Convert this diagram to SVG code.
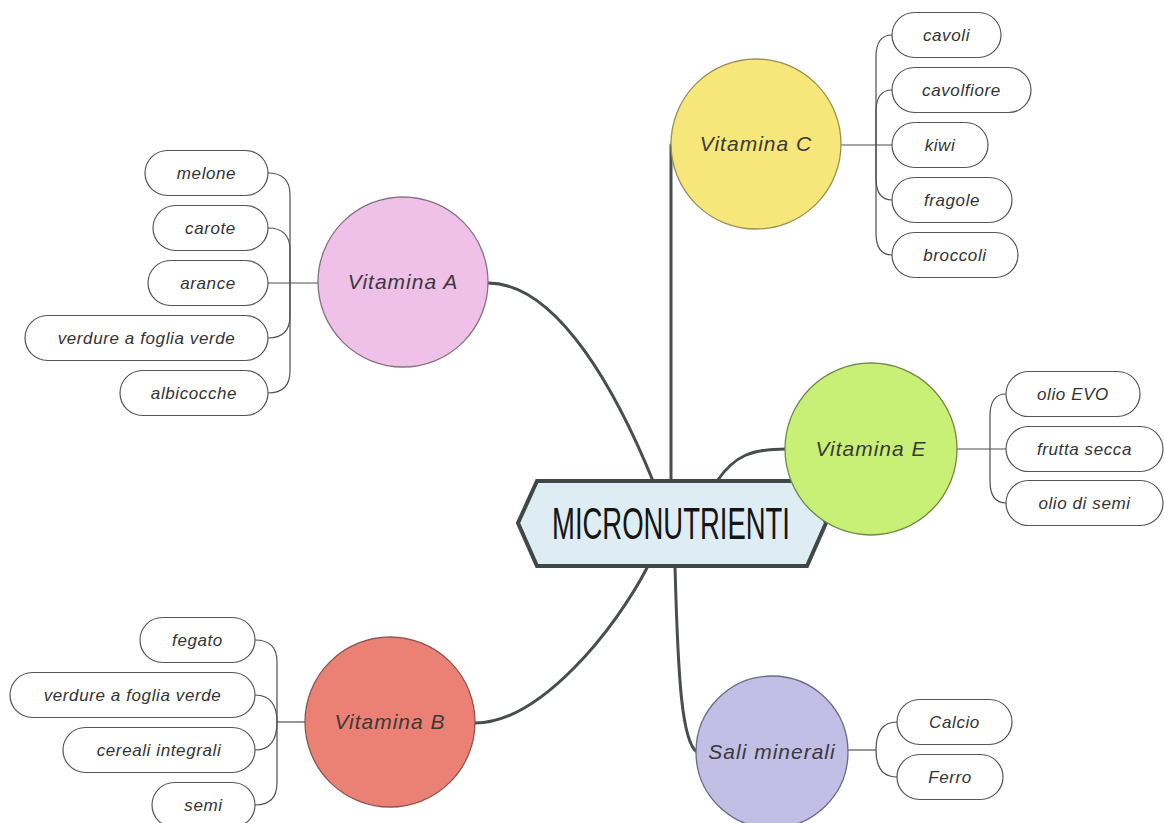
<svg xmlns="http://www.w3.org/2000/svg" width="1164" height="823" viewBox="0 0 1164 823">
  <style>
    .branch { fill: none; stroke: #4a4d4d; stroke-width: 3; stroke-linecap: round; }
    .leafline { fill: none; stroke: #4f4f4f; stroke-width: 1.2; }
    .leaf rect { fill: #ffffff; stroke: #555555; stroke-width: 1.2; }
    .leaf text { font-family: "Liberation Sans", Arial, sans-serif; font-style: italic; font-size: 17px; letter-spacing: 0.6px; fill: #333333; text-anchor: middle; }
    .topic text { font-family: "Liberation Sans", Arial, sans-serif; font-style: italic; font-size: 21px; letter-spacing: 1px; fill: #3a3a3a; text-anchor: middle; }
    .topic circle { stroke-width: 1.3; }
    .central text { font-family: "Liberation Sans", Arial, sans-serif; font-size: 44px; fill: #151515; }
  </style>

  <!-- connectors -->
  <g id="connectors">
    <!-- main branches -->
    <path class="branch" d="M671,481 L671,145"/>
    <path class="branch" d="M488,283 C560,283 620,400 653,481"/>
    <path class="branch" d="M717,481 C735,455 752,449 786,449"/>
    <path class="branch" d="M648,566 C615,630 540,723 475,723"/>
    <path class="branch" d="M675,566 C678,680 682,742 697,752"/>

    <!-- Vitamina C leaves -->
    <path class="leafline" d="M841,145 L892,145"/>
    <path class="leafline" d="M876,145 L876,57 Q876,35 892,35"/>
    <path class="leafline" d="M876,145 L876,112 Q876,90 892,90"/>
    <path class="leafline" d="M876,145 L876,178 Q876,200 892,200"/>
    <path class="leafline" d="M876,145 L876,233 Q876,255 892,255"/>

    <!-- Vitamina A leaves -->
    <path class="leafline" d="M318,283 L268,283"/>
    <path class="leafline" d="M290,283 L290,195 Q290,173 268,173"/>
    <path class="leafline" d="M290,283 L290,250 Q290,228 268,228"/>
    <path class="leafline" d="M290,283 L290,316 Q290,338 268,338"/>
    <path class="leafline" d="M290,283 L290,371 Q290,393 268,393"/>

    <!-- Vitamina E leaves -->
    <path class="leafline" d="M956,449 L1006,449"/>
    <path class="leafline" d="M990,449 L990,416 Q990,394 1006,394"/>
    <path class="leafline" d="M990,449 L990,481 Q990,503 1006,503"/>

    <!-- Vitamina B leaves -->
    <path class="leafline" d="M305,722 L277,722"/>
    <path class="leafline" d="M277,722 L277,662 Q277,640 255,640"/>
    <path class="leafline" d="M277,722 Q277,695 255,695"/>
    <path class="leafline" d="M277,722 Q277,750 255,750"/>
    <path class="leafline" d="M277,722 L277,783 Q277,805 255,805"/>

    <!-- Sali minerali leaves -->
    <path class="leafline" d="M847,750 L876,750"/>
    <path class="leafline" d="M876,750 Q876,722 897,722"/>
    <path class="leafline" d="M876,750 Q876,777 897,777"/>
  </g>

  <!-- central topic -->
  <g id="micronutrienti" class="central">
    <polygon points="518,523 537,481 807,481 826,523 807,566 537,566" fill="#deedf3" stroke="#3f4847" stroke-width="4" stroke-linejoin="miter"/>
    <text x="552" y="539" textLength="238" lengthAdjust="spacingAndGlyphs">MICRONUTRIENTI</text>
  </g>

  <!-- main topics -->
  <g id="vitamina-a" class="topic">
    <circle cx="403" cy="282" r="85" fill="#efc0e8" stroke="#85707f"/>
    <text x="403" y="289">Vitamina A</text>
  </g>
  <g id="vitamina-c" class="topic">
    <circle cx="756" cy="144" r="85" fill="#f7e77a" stroke="#9a8e55"/>
    <text x="756" y="151">Vitamina C</text>
  </g>
  <g id="vitamina-e" class="topic">
    <circle cx="871" cy="449" r="86" fill="#c8ef76" stroke="#6f8a48"/>
    <text x="871" y="456">Vitamina E</text>
  </g>
  <g id="vitamina-b" class="topic">
    <circle cx="390" cy="722" r="85" fill="#eb8175" stroke="#8a5550"/>
    <text x="390" y="729" fill="#4a2c2c">Vitamina B</text>
  </g>
  <g id="sali-minerali" class="topic">
    <circle cx="772" cy="752" r="76" fill="#c3bee6" stroke="#6c6888"/>
    <text x="772" y="759">Sali minerali</text>
  </g>

  <!-- Vitamina C items -->
  <g id="cavoli" class="leaf"><rect x="892" y="12.5" width="109" height="45" rx="22.5"/><text x="946.5" y="41">cavoli</text></g>
  <g id="cavolfiore" class="leaf"><rect x="892" y="67.5" width="139" height="45" rx="22.5"/><text x="961.5" y="96">cavolfiore</text></g>
  <g id="kiwi" class="leaf"><rect x="892" y="122.5" width="96" height="45" rx="22.5"/><text x="940" y="151">kiwi</text></g>
  <g id="fragole" class="leaf"><rect x="892" y="177.5" width="120" height="45" rx="22.5"/><text x="952" y="206">fragole</text></g>
  <g id="broccoli" class="leaf"><rect x="892" y="232.5" width="126" height="45" rx="22.5"/><text x="955" y="261">broccoli</text></g>

  <!-- Vitamina A items -->
  <g id="melone" class="leaf"><rect x="145" y="150.5" width="123" height="45" rx="22.5"/><text x="206.5" y="179">melone</text></g>
  <g id="carote" class="leaf"><rect x="153" y="205.5" width="115" height="45" rx="22.5"/><text x="210.5" y="234">carote</text></g>
  <g id="arance" class="leaf"><rect x="148" y="260.5" width="120" height="45" rx="22.5"/><text x="208" y="289">arance</text></g>
  <g id="verdure-a" class="leaf"><rect x="25" y="315.5" width="243" height="45" rx="22.5"/><text x="146.5" y="344">verdure a foglia verde</text></g>
  <g id="albicocche" class="leaf"><rect x="120" y="370.5" width="148" height="45" rx="22.5"/><text x="194" y="399">albicocche</text></g>

  <!-- Vitamina E items -->
  <g id="olio-evo" class="leaf"><rect x="1006" y="371.5" width="134" height="45" rx="22.5"/><text x="1073" y="400">olio EVO</text></g>
  <g id="frutta-secca" class="leaf"><rect x="1006" y="426.5" width="157" height="45" rx="22.5"/><text x="1084.5" y="455">frutta secca</text></g>
  <g id="olio-di-semi" class="leaf"><rect x="1006" y="480.5" width="157" height="45" rx="22.5"/><text x="1084.5" y="509">olio di semi</text></g>

  <!-- Vitamina B items -->
  <g id="fegato" class="leaf"><rect x="140" y="617.5" width="115" height="45" rx="22.5"/><text x="197.5" y="646">fegato</text></g>
  <g id="verdure-b" class="leaf"><rect x="10" y="672.5" width="245" height="45" rx="22.5"/><text x="132.5" y="701">verdure a foglia verde</text></g>
  <g id="cereali-integrali" class="leaf"><rect x="63" y="727.5" width="192" height="45" rx="22.5"/><text x="159" y="756">cereali integrali</text></g>
  <g id="semi" class="leaf"><rect x="152" y="782.5" width="103" height="45" rx="22.5"/><text x="203.5" y="811">semi</text></g>

  <!-- Sali minerali items -->
  <g id="calcio" class="leaf"><rect x="897" y="699.5" width="115" height="45" rx="22.5"/><text x="954.5" y="728">Calcio</text></g>
  <g id="ferro" class="leaf"><rect x="897" y="754.5" width="106" height="45" rx="22.5"/><text x="950" y="783">Ferro</text></g>
</svg>
